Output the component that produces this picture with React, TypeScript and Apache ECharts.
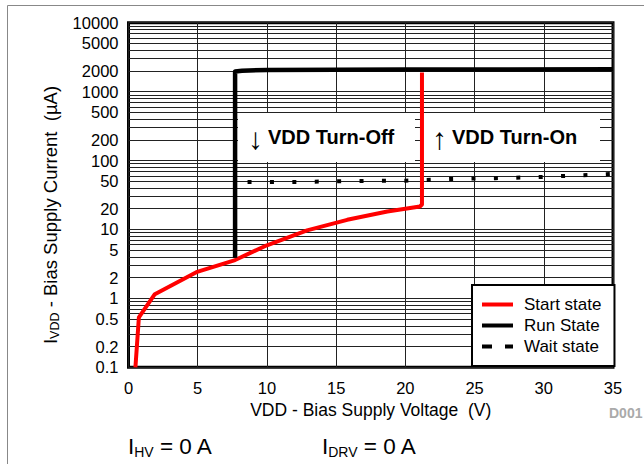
import React, { useEffect, useRef } from "react";
import * as echarts from "echarts";

const FONT = "'Liberation Sans', Arial, Helvetica, sans-serif";

// X axis (VDD, V)
const xMin = 0;
const xMax = 35;
const xInterval = 5;

// Y axis (IVDD, µA) – log scale
const yMin = 0.1;
const yMax = 10000;
const yLabelValues = [0.1, 0.2, 0.5, 1, 2, 5, 10, 20, 50, 100, 200, 500, 1000, 2000, 5000, 10000];
const yDecades = [0.1, 1, 10, 100, 1000];
const yDecadeSteps = [1, 2, 3, 4, 5, 6, 7, 8, 9];

// Start state (red)
const startV = [0.5, 0.75, 1.9, 4.9, 7.7, 10, 12.9, 15.8, 18.7, 21.05, 21.2, 21.2];
const startI = [0.1, 0.53, 1.15, 2.4, 3.6, 5.9, 9.7, 13.8, 18.2, 21.5, 23, 1900];

// Run state (black)
const runV = [7.7, 7.7, 8.2, 10, 20, 35];
const runI = [3.9, 1960, 2010, 2060, 2090, 2110];

// Wait state (dotted)
const waitV = [8.6, 12, 16.8, 20, 23.3, 26.5, 29.8, 31.3, 35];
const waitI = [48.7, 48.9, 50.5, 51, 54, 55.5, 57.6, 59.6, 64];

const zip = (xs: number[], ys: number[]) => xs.map((x, i) => [x, ys[i]]);

const yGridValues: number[] = [];
yDecades.forEach((d) => yDecadeSteps.forEach((s) => yGridValues.push(Number((d * s).toPrecision(3)))));
yGridValues.push(yMax);

const boldText = (x: number, text: string) => ({
  type: "text",
  z: 2,
  x,
  y: 137,
  style: {
    text,
    fontSize: 20,
    fontWeight: "bold",
    fontFamily: FONT,
    fill: "#000",
    verticalAlign: "middle",
  },
});

const arrowText = (x: number, text: string) => ({
  type: "text",
  z: 2,
  x,
  y: 138,
  style: {
    text,
    fontSize: 30,
    fontFamily: FONT,
    fill: "#000",
    verticalAlign: "middle",
  },
});

const subText = (x: number, sub: string) => ({
  type: "text",
  x,
  y: 446,
  style: {
    text: `{i|I}{s|${sub}}{n| = 0 A}`,
    verticalAlign: "middle",
    rich: {
      i: { fontSize: 22.5, fontFamily: FONT, fill: "#000" },
      s: { fontSize: 14, fontFamily: FONT, fill: "#000", padding: [11, 0, 0, 0] },
      n: { fontSize: 22.5, fontFamily: FONT, fill: "#000" },
    },
  },
});

export default function App() {
  const ref = useRef<HTMLDivElement>(null);

  useEffect(() => {
    if (!ref.current) return;
    const chart = echarts.init(ref.current, undefined, { renderer: "svg" });
    chart.setOption({
      animation: false,
      backgroundColor: "#fff",
      textStyle: { fontFamily: FONT },
      grid: {
        left: 128.5,
        right: 31,
        top: 22.7,
        bottom: 96.7,
        show: true,
        borderColor: "#000",
        borderWidth: 3,
        backgroundColor: "transparent",
      },
      xAxis: {
        type: "value",
        min: xMin,
        max: xMax,
        interval: xInterval,
        axisLine: { show: false },
        axisTick: { show: false },
        axisLabel: { color: "#000", fontSize: 16.5, margin: 12, fontFamily: FONT },
        splitLine: { show: true, lineStyle: { color: "#222", width: 1 } },
        name: "VDD - Bias Supply Voltage  (V)",
        nameLocation: "middle",
        nameGap: 33,
        nameTextStyle: { color: "#000", fontSize: 17.5, fontFamily: FONT },
      },
      yAxis: {
        type: "log",
        logBase: 10,
        min: yMin,
        max: yMax,
        axisLine: { show: false },
        axisTick: { show: false, customValues: yGridValues },
        axisLabel: {
          color: "#000",
          fontSize: 16.5,
          margin: 10,
          fontFamily: FONT,
          customValues: yLabelValues,
          formatter: (v: number) => String(Number(Number(v).toPrecision(3))),
        },
        splitLine: { show: true, lineStyle: { color: "#222", width: 1 } },
        name: "{i|I}{s|VDD}{n| - Bias Supply Current  (µA)}",
        nameLocation: "middle",
        nameGap: 51,
        nameTextStyle: {
          color: "#000",
          fontFamily: FONT,
          padding: [0, 40, 0, 0],
          rich: {
            i: { fontSize: 18.5, fontFamily: FONT, color: "#000" },
            s: { fontSize: 12.5, fontFamily: FONT, color: "#000", padding: [9, 0, 0, 0] },
            n: { fontSize: 18.5, fontFamily: FONT, color: "#000" },
          },
        },
      },
      legend: {
        orient: "vertical",
        left: 472,
        top: 285,
        padding: [11, 13, 11, 10],
        itemWidth: 31,
        itemHeight: 14,
        itemGap: 4,
        backgroundColor: "#fff",
        borderColor: "#000",
        borderWidth: 2,
        borderRadius: 0,
        itemStyle: { borderWidth: 0 },
        textStyle: { color: "#000", fontSize: 17, fontFamily: FONT, padding: [0, 0, 0, 6] },
        data: [
          { name: "Start state", icon: "path://M0,0H31V4H0Z" },
          { name: "Run State", icon: "path://M0,0H31V4H0Z" },
          { name: "Wait state", icon: "path://M0,0H10V4H0Z M23,0H31V4H23Z" },
        ],
      },
      series: [
        {
          name: "Start state",
          type: "line",
          data: zip(startV, startI),
          color: "#ff0000",
          symbol: "none",
          lineStyle: { color: "#ff0000", width: 4, join: "round" },
          z: 3,
        },
        {
          name: "Run State",
          type: "line",
          data: zip(runV, runI),
          color: "#000",
          symbol: "none",
          lineStyle: { color: "#000", width: 4.5, join: "round" },
          z: 4,
        },
        {
          name: "Wait state",
          type: "line",
          data: zip(waitV, waitI),
          color: "#000",
          symbol: "none",
          lineStyle: { color: "#000", width: 4, type: [4, 18.4], cap: "butt" },
          z: 3,
        },
      ],
      graphic: [
        {
          type: "rect",
          z: 0,
          silent: true,
          shape: { x: 7.5, y: 5.5, width: 700, height: 500 },
          style: { fill: "none", stroke: "#888", lineWidth: 1 },
        },
        {
          type: "rect",
          z: 1,
          shape: { x: 238, y: 113, width: 177, height: 49 },
          style: { fill: "#fff" },
        },
        {
          type: "rect",
          z: 1,
          shape: { x: 423, y: 113, width: 177, height: 49 },
          style: { fill: "#fff" },
        },
        arrowText(248, "↓"),
        boldText(268, "VDD Turn-Off"),
        arrowText(432, "↑"),
        boldText(452, "VDD Turn-On"),
        {
          type: "text",
          x: 609,
          y: 413,
          style: {
            text: "D001",
            fontSize: 14,
            fontWeight: "bold",
            fontFamily: FONT,
            fill: "#aaa",
            verticalAlign: "middle",
          },
        },
        subText(128, "HV"),
        subText(322, "DRV"),
      ],
    });
    return () => chart.dispose();
  }, []);

  return (
    <div
      ref={ref}
      style={{ position: "fixed", left: 0, top: 0, width: 644, height: 464, background: "#fff" }}
    />
  );
}
